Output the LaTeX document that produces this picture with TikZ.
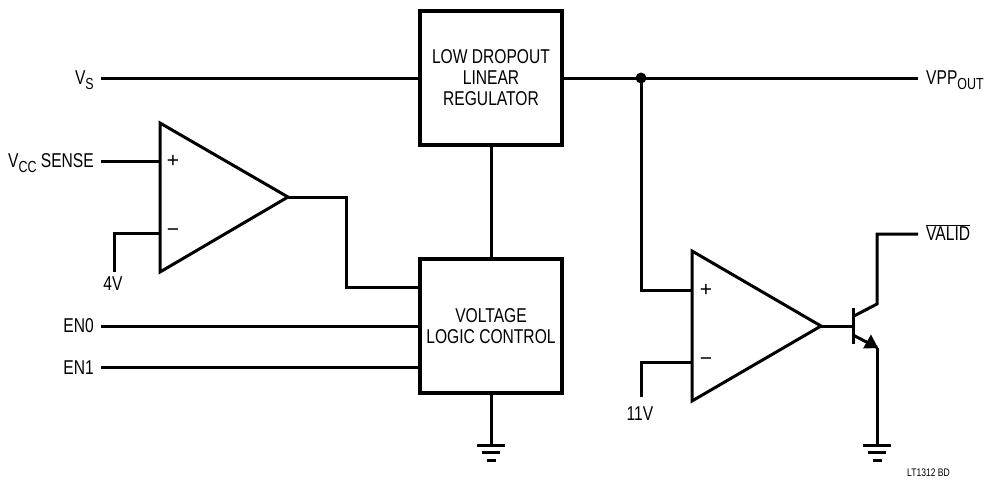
\documentclass[tikz,border=0pt]{standalone}
\usepackage{fontspec}
\setmainfont[FakeStretch=0.78]{Liberation Sans}
\newfontfamily\signfont{Liberation Sans}

\newcommand{\lowtext}[1]{\raisebox{-0.28em}{\fontsize{16}{16}\selectfont #1}}

\tikzset{
	wire/.style={line width=3pt},
	blockbox/.style={draw, line width=3.3pt, inner sep=0pt, outer sep=0pt, minimum width=142pt, minimum height=134pt, align=center, font=\fontsize{20}{21}\selectfont},
	pinlabel/.style={inner sep=0pt, font=\fontsize{20}{21}\selectfont},
	signmark/.style={inner sep=0pt, font=\signfont\fontsize{21}{21}\selectfont}
}

\begin{document}
\begin{tikzpicture}[x=1pt,y=-1pt]
	\useasboundingbox (0,0) rectangle (984,479);

	\node[blockbox] (regulator) at (491,78) {LOW DROPOUT\\LINEAR\\REGULATOR};
	\node[blockbox] (logic) at (491,326) {VOLTAGE\\LOGIC CONTROL};

	\coordinate (vsend) at (101,78);
	\coordinate (vppend) at (918,78);
	\coordinate (junction) at (641,78);
	\node[pinlabel, anchor=base east] (vslabel) at (94,84) {V\lowtext{S}};
	\node[pinlabel, anchor=base west] (vpplabel) at (926,84) {VPP\lowtext{OUT}};
	\draw[wire] (vsend) -- (regulator.west);
	\draw[wire] (regulator.east) -- (vppend);
	\draw[wire] (regulator.south) -- (logic.north);
	\fill (junction) circle (5.5);

	\coordinate (ampatop) at (160,123);
	\coordinate (ampabot) at (160,272);
	\coordinate (ampatip) at (288,197);
	\draw[wire, line join=miter] (ampatop) -- (ampatip) -- (ampabot) -- cycle;
	\node[signmark] (ampaplus) at (173,161) {+};
	\node[signmark] (ampaminus) at (173,233) {−};

	\coordinate (senseend) at (101,161);
	\coordinate (senseamp) at (160,161);
	\coordinate (fourend) at (114,272);
	\coordinate (fouramp) at (160,233);
	\coordinate (logicin) at (420,287);
	\node[pinlabel, anchor=base east] (senselabel) at (94,167) {V\lowtext{CC} SENSE};
	\node[pinlabel] (fourlabel) at (113,284) {4V};
	\draw[wire] (senseend) -- (senseamp);
	\draw[wire] (fourend) |- (fouramp);
	\draw[wire] (ampatip) -- (346,197) |- (logicin);

	\coordinate (enzeroend) at (101,326);
	\coordinate (enzeroin) at (420,326);
	\coordinate (enoneend) at (101,367);
	\coordinate (enonein) at (420,367);
	\node[pinlabel, anchor=base east] (enzerolabel) at (94,332) {EN0};
	\node[pinlabel, anchor=base east] (enonelabel) at (94,374) {EN1};
	\draw[wire] (enzeroend) -- (enzeroin);
	\draw[wire] (enoneend) -- (enonein);

	\coordinate (gndleft) at (491,445);
	\draw[wire] (logic.south) -- (gndleft);
	\draw[wire] ([xshift=-14]gndleft) -- ([xshift=14]gndleft);
	\draw[wire] ([xshift=-9,yshift=-7.5]gndleft) -- ([xshift=9,yshift=-7.5]gndleft);
	\draw[wire] ([xshift=-4.5,yshift=-15]gndleft) -- ([xshift=4.5,yshift=-15]gndleft);

	\coordinate (ampbtop) at (692,251);
	\coordinate (ampbbot) at (692,401);
	\coordinate (ampbtip) at (821,326);
	\draw[wire, line join=miter] (ampbtop) -- (ampbtip) -- (ampbbot) -- cycle;
	\node[signmark] (ampbplus) at (706,290) {+};
	\node[signmark] (ampbminus) at (706,362) {−};

	\coordinate (ampbin) at (692,290);
	\coordinate (elevenend) at (641,397);
	\coordinate (elevenamp) at (692,362);
	\node[pinlabel] (elevenlabel) at (640,414) {11V};
	\draw[wire] (junction) |- (ampbin);
	\draw[wire] (elevenend) |- (elevenamp);

	\coordinate (base) at (853,326);
	\coordinate (basetop) at (853,307.5);
	\coordinate (basebot) at (853,344);
	\coordinate (colstart) at (853,316.5);
	\coordinate (colknee) at (877,304);
	\coordinate (validend) at (918,234);
	\coordinate (emitstart) at (853,335);
	\coordinate (emitknee) at (877,347.5);
	\coordinate (gndright) at (877,445);
	\node[pinlabel, anchor=base west] (validlabel) at (926,240) {$\overline{\mbox{VALID}}$};
	\node[inner sep=0pt, font=\fontsize{11}{11}\selectfont] (partlabel) at (928.5,473) {LT1312 BD};
	\draw[wire] (ampbtip) -- (base);
	\draw[wire] (basetop) -- (basebot);
	\draw[wire] (colstart) -- (colknee) |- (validend);
	\draw[wire] (emitstart) -- (emitknee);
	\fill (emitknee) ++(1,0.5) -- ++(-15,0.5) -- ++(8,-14) -- cycle;
	\draw[wire] (emitknee) -- (gndright);
	\draw[wire] ([xshift=-14]gndright) -- ([xshift=14]gndright);
	\draw[wire] ([xshift=-9,yshift=-7.5]gndright) -- ([xshift=9,yshift=-7.5]gndright);
	\draw[wire] ([xshift=-4.5,yshift=-15]gndright) -- ([xshift=4.5,yshift=-15]gndright);
\end{tikzpicture}
\end{document}
